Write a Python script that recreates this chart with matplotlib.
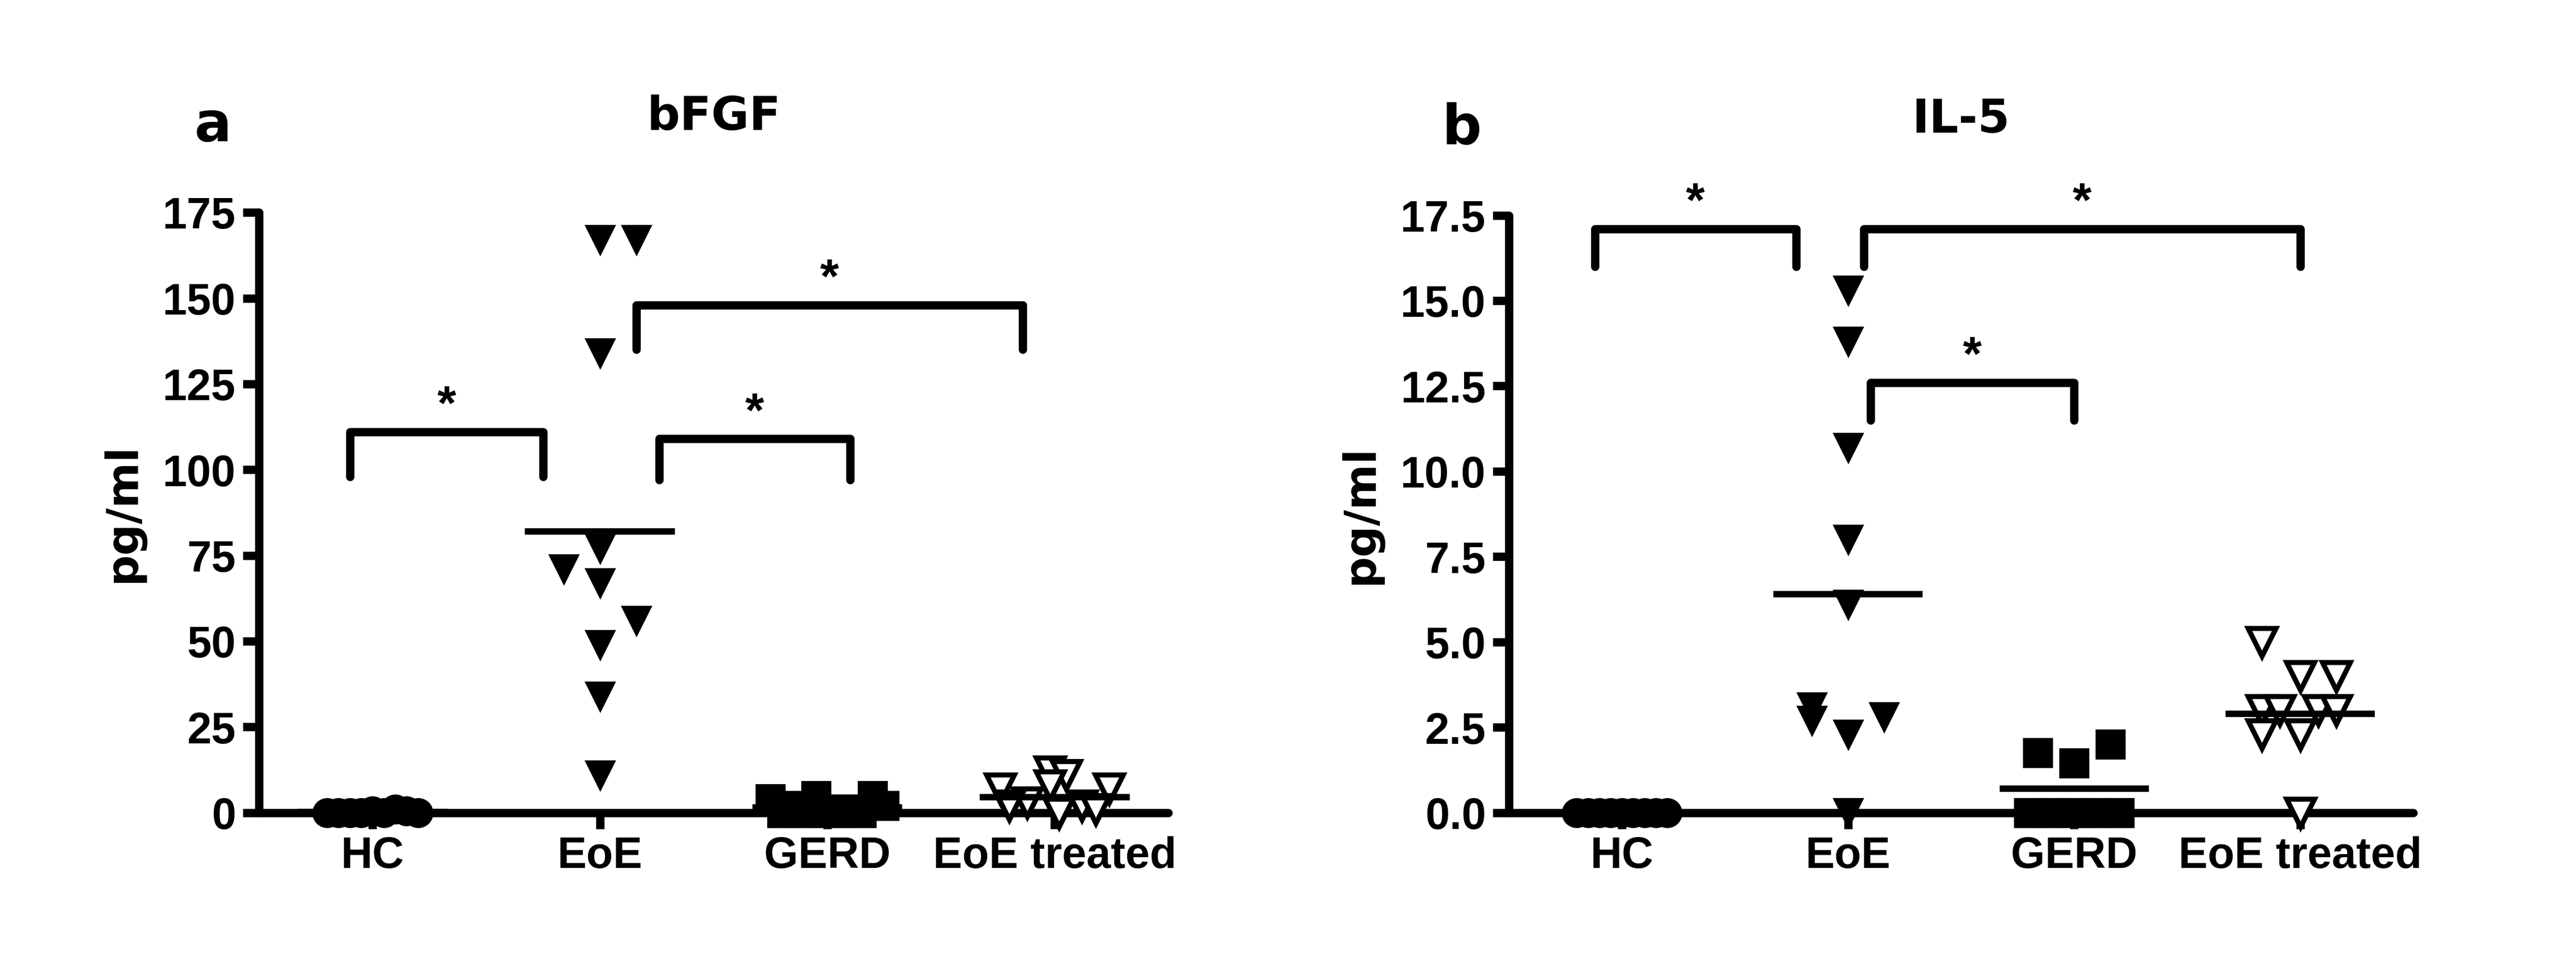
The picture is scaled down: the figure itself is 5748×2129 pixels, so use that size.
import matplotlib
matplotlib.use("Agg")
import matplotlib.pyplot as plt
from matplotlib import font_manager

fams = [f.name for f in font_manager.fontManager.ttflist]
FONT = 'Liberation Sans Narrow' if 'Liberation Sans Narrow' in fams else 'Liberation Sans'
plt.rcParams['font.family'] = [FONT, 'DejaVu Sans']
plt.rcParams['font.weight'] = 'bold'

categories = ["HC", "EoE", "GERD", "EoE treated"]

# Panel a: bFGF (value, x offset)
a_hc = [0, 0, 0, 0, 0.5, 0, 1, 0.5, 0]
a_hc_dx = [-0.2, -0.15, -0.1, -0.05, 0, 0.05, 0.1, 0.15, 0.2]
a_eoe = [167, 167, 134, 77, 71, 67, 56, 49, 34, 11]
a_eoe_dx = [0, 0.16, 0, 0, -0.16, 0, 0.16, 0, 0, 0]
a_gerd = [4, 5, 5, 2, 1, 0, 0, 1, 0, 0, 2, 0]
a_gerd_dx = [-0.25, -0.05, 0.2, -0.15, 0.1, -0.2, -0.1, 0, 0.05, 0.15, 0.25, -0.02]
a_tr = [12, 11, 8, 7, 7, 3, 2, 2, 1, 0]
a_tr_dx = [-0.02, 0.05, -0.02, -0.24, 0.24, -0.12, 0.12, -0.2, 0.18, 0.02]
a_means = [0.2, 82, 1.5, 4.5]

# Panel b: IL-5
b_hc = [0] * 9
b_hc_dx = [-0.2, -0.15, -0.1, -0.05, 0, 0.05, 0.1, 0.15, 0.2]
b_eoe = [15.3, 13.8, 10.7, 8.0, 6.1, 3.1, 2.7, 2.8, 2.3, 0]
b_eoe_dx = [0, 0, 0, 0, 0, -0.16, -0.16, 0.16, 0, 0]
b_gerd = [1.75, 1.45, 2.0, 0, 0, 0, 0, 0]
b_gerd_dx = [-0.16, 0, 0.16, -0.2, -0.1, 0, 0.1, 0.2]
b_tr = [5.0, 4.0, 4.0, 3.0, 3.0, 3.0, 3.0, 2.3, 2.3, 0]
b_tr_dx = [-0.17, -0.0, 0.16, -0.17, -0.09, 0.08, 0.16, -0.17, 0, 0]
b_means = [0, 6.4, 0.7, 2.9]

# brackets: (x1, x2, top, bottom)
a_br = [(-0.1, 0.75, 111, 98), (1.26, 2.1, 109, 97), (1.16, 2.86, 148, 135)]
b_br = [(-0.12, 0.77, 17.1, 16.0), (1.1, 2.0, 12.6, 11.5), (1.07, 3.0, 17.1, 16.0)]

fig = plt.figure(figsize=(15.52, 5.75), dpi=370.4)
LW = 3.6
MS = 12

def panel(ax, groups, means, brs, ymax, ystep, fmt, title, letter):
    markers = [dict(marker='o', mfc='black', mec='black'),
               dict(marker='v', mfc='black', mec='black'),
               dict(marker='s', mfc='black', mec='black'),
               dict(marker='v', mfc='white', mec='black', mew=2.2)]
    for i, (vals, dx) in enumerate(groups):
        xs = [i + d for d in dx]
        ax.plot(xs, vals, linestyle='none', ms=MS, clip_on=False, zorder=3, **markers[i])
        ax.plot([i - 0.33, i + 0.33], [means[i], means[i]], color='black', lw=2.8,
                solid_capstyle='butt', zorder=4, clip_on=False)
    for x1, x2, top, bot in brs:
        ax.plot([x1, x1, x2, x2], [bot, top, top, bot], color='black', lw=LW,
                solid_capstyle='round', solid_joinstyle='round', clip_on=False)
        ax.text((x1 + x2) / 2, top + ymax * 0.005, '*', ha='center', va='bottom',
                fontsize=21, fontweight='bold')
    ax.set_xlim(-0.5, 3.5)
    ax.set_ylim(0, ymax)
    ticks = [k * ystep for k in range(int(round(ymax / ystep)) + 1)]
    ax.set_yticks(ticks)
    ax.set_yticklabels([fmt.format(t) for t in ticks])
    ax.set_xticks(range(4))
    ax.set_xticklabels(categories)
    for s in ['top', 'right']:
        ax.spines[s].set_visible(False)
    for s in ['left', 'bottom']:
        ax.spines[s].set_linewidth(LW)
        ax.spines[s].set_capstyle('round')
    ax.tick_params(width=LW, length=7, labelsize=19, pad=3)
    for lab in ax.get_xticklabels() + ax.get_yticklabels():
        lab.set_fontweight('bold')
    ax.set_ylabel('pg/ml', fontsize=19, fontweight='bold', family=['DejaVu Sans'], labelpad=8)
    ax.set_title(title, fontsize=20, fontweight='bold', family=['DejaVu Sans'], pad=36)
    ax.text(-0.03, 1.1, letter, transform=ax.transAxes, fontsize=24, fontweight='bold',
            family=['DejaVu Sans'], ha='right', va='bottom')

ax1 = fig.add_axes([0.1005, 0.148, 0.353, 0.629])
panel(ax1, [(a_hc, a_hc_dx), (a_eoe, a_eoe_dx), (a_gerd, a_gerd_dx), (a_tr, a_tr_dx)],
      a_means, a_br, 175, 25, '{:.0f}', 'bFGF', 'a')
ax2 = fig.add_axes([0.5857, 0.148, 0.351, 0.626])
panel(ax2, [(b_hc, b_hc_dx), (b_eoe, b_eoe_dx), (b_gerd, b_gerd_dx), (b_tr, b_tr_dx)],
      b_means, b_br, 17.5, 2.5, '{:.1f}', 'IL-5', 'b')

fig.savefig('out.png', dpi=370.4)
